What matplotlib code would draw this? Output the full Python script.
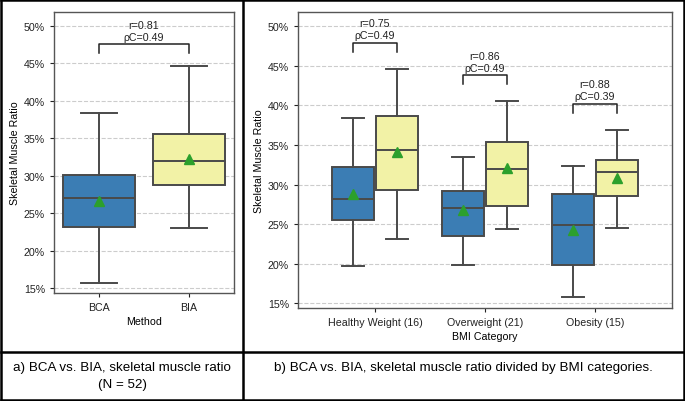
import matplotlib
matplotlib.use("Agg")
import matplotlib.pyplot as plt
from matplotlib.lines import Line2D
from matplotlib.ticker import FuncFormatter

plt.rcParams['font.family'] = ['Liberation Sans', 'DejaVu Sans']

# ---- data (percent) ----
methods = ["BCA", "BIA"]
overall_whislo = [15.7, 23.1]
overall_q1 = [23.25, 28.76]
overall_med = [27.0, 32.0]
overall_q3 = [30.05, 35.5]
overall_whishi = [38.3, 44.6]
overall_mean = [26.6, 32.3]
overall_r = "0.81"
overall_pc = "0.49"

categories = ["Healthy Weight (16)", "Overweight (21)", "Obesity (15)"]
bca_whislo = [19.76, 19.88, 15.84]
bca_q1 = [25.57, 23.55, 19.8]
bca_med = [28.2, 27.04, 24.94]
bca_q3 = [32.2, 29.19, 28.85]
bca_whishi = [38.4, 33.53, 32.31]
bca_mean = [28.8, 26.75, 24.3]
bia_whislo = [23.17, 24.35, 24.47]
bia_q1 = [29.28, 27.34, 28.6]
bia_med = [34.33, 31.93, 31.63]
bia_q3 = [38.6, 35.34, 33.15]
bia_whishi = [44.65, 40.6, 36.94]
bia_mean = [34.08, 32.14, 30.79]
cat_r = ["0.75", "0.86", "0.88"]
cat_pc = ["0.49", "0.49", "0.39"]
bracket_y = [47.9, 43.8, 40.2]
overall_bracket_y = 47.5

yticks = [15, 20, 25, 30, 35, 40, 45, 50]
colors = ["#3b7db4", "#f2f2a6"]
edge = "#4a4a4a"
FS = 7.7

W, H = 685, 402
fig = plt.figure(figsize=(W / 100, H / 100), dpi=100)


def ax_rect(x0, y0, x1, y1):
    return [x0 / W, 1 - y1 / H, (x1 - x0) / W, (y1 - y0) / H]


def stat(lo, q1, med, q3, hi, mean):
    return dict(whislo=lo, q1=q1, med=med, q3=q3, whishi=hi, mean=mean, fliers=[])


def draw_boxes(ax, stats, positions, color, width):
    bp = ax.bxp(stats, positions=positions, widths=width, patch_artist=True,
                showmeans=True, showfliers=False, capwidths=width * 0.5,
                boxprops=dict(facecolor=color, edgecolor=edge, linewidth=1.4),
                medianprops=dict(color=edge, linewidth=1.4),
                whiskerprops=dict(color=edge, linewidth=1.4),
                capprops=dict(color=edge, linewidth=1.4),
                meanprops=dict(marker="^", markerfacecolor="#2ca02c",
                               markeredgecolor="#2ca02c", markersize=6.5),
                manage_ticks=False, zorder=3)
    return bp


def style_ax(ax):
    ax.set_ylim(14.4, 51.8)
    ax.set_yticks(yticks)
    ax.yaxis.set_major_formatter(FuncFormatter(lambda v, p: f"{v:.0f}%"))
    ax.grid(axis="y", linestyle="--", color="#cccccc", linewidth=0.8, zorder=0)
    ax.set_axisbelow(True)
    for s in ax.spines.values():
        s.set_color("#555555")
        s.set_linewidth(1.0)
    ax.tick_params(labelsize=FS, colors="#222222", length=3, width=0.8)
    ax.set_ylabel("Skeletal Muscle Ratio", fontsize=FS, labelpad=3)


def bracket(ax, x0, x1, y, r, pc):
    h = 1.1
    ax.plot([x0, x0, x1, x1], [y - h, y, y, y - h], color="#222222", lw=1.1, zorder=4)
    ax.text((x0 + x1) / 2, y + 0.3, f"r={r}\nρC={pc}", ha="center", va="bottom",
            fontsize=FS, linespacing=1.25, color="#222222")


# ---- left panel ----
axL = fig.add_axes(ax_rect(54, 13, 234, 294))
for i in range(2):
    draw_boxes(axL, [stat(overall_whislo[i], overall_q1[i], overall_med[i],
                          overall_q3[i], overall_whishi[i], overall_mean[i])],
               [i], colors[i], 0.8)
axL.set_xlim(-0.5, 1.5)
axL.set_xticks(range(len(methods)))
axL.set_xticklabels(methods)
axL.set_xlabel("Method", fontsize=FS, labelpad=3)
style_ax(axL)
bracket(axL, 0, 1, overall_bracket_y, overall_r, overall_pc)

# ---- right panel ----
axR = fig.add_axes(ax_rect(298, 13, 672, 309))
off = 0.2
for i in range(len(categories)):
    draw_boxes(axR, [stat(bca_whislo[i], bca_q1[i], bca_med[i], bca_q3[i],
                          bca_whishi[i], bca_mean[i])], [i - off], colors[0], 0.39)
    draw_boxes(axR, [stat(bia_whislo[i], bia_q1[i], bia_med[i], bia_q3[i],
                          bia_whishi[i], bia_mean[i])], [i + off], colors[1], 0.39)
    bracket(axR, i - off, i + off, bracket_y[i], cat_r[i], cat_pc[i])
axR.set_xlim(-0.7, 2.7)
axR.set_xticks(range(len(categories)))
axR.set_xticklabels(categories)
axR.set_xlabel("BMI Category", fontsize=FS, labelpad=3)
style_ax(axR)

# ---- table frame ----
def fline(xs, ys, lw=1.8):
    fig.add_artist(Line2D([x / W for x in xs], [1 - y / H for y in ys],
                          color="black", lw=lw, transform=fig.transFigure))

fline([1, 684], [1, 1])
fline([1, 684], [400.5, 400.5])
fline([1, 1], [1, 400.5])
fline([684, 684], [1, 400.5])
fline([243, 243], [1, 400.5])
fline([1, 684], [352.5, 352.5])

fig.text(122 / W, 1 - 376.5 / H, "a) BCA vs. BIA, skeletal muscle ratio\n(N = 52)",
         ha="center", va="center", fontsize=9.6, linespacing=1.45)
fig.text(463 / W, 1 - 368 / H, "b) BCA vs. BIA, skeletal muscle ratio divided by BMI categories.",
         ha="center", va="center", fontsize=9.6)

fig.savefig("out.png", dpi=100)
